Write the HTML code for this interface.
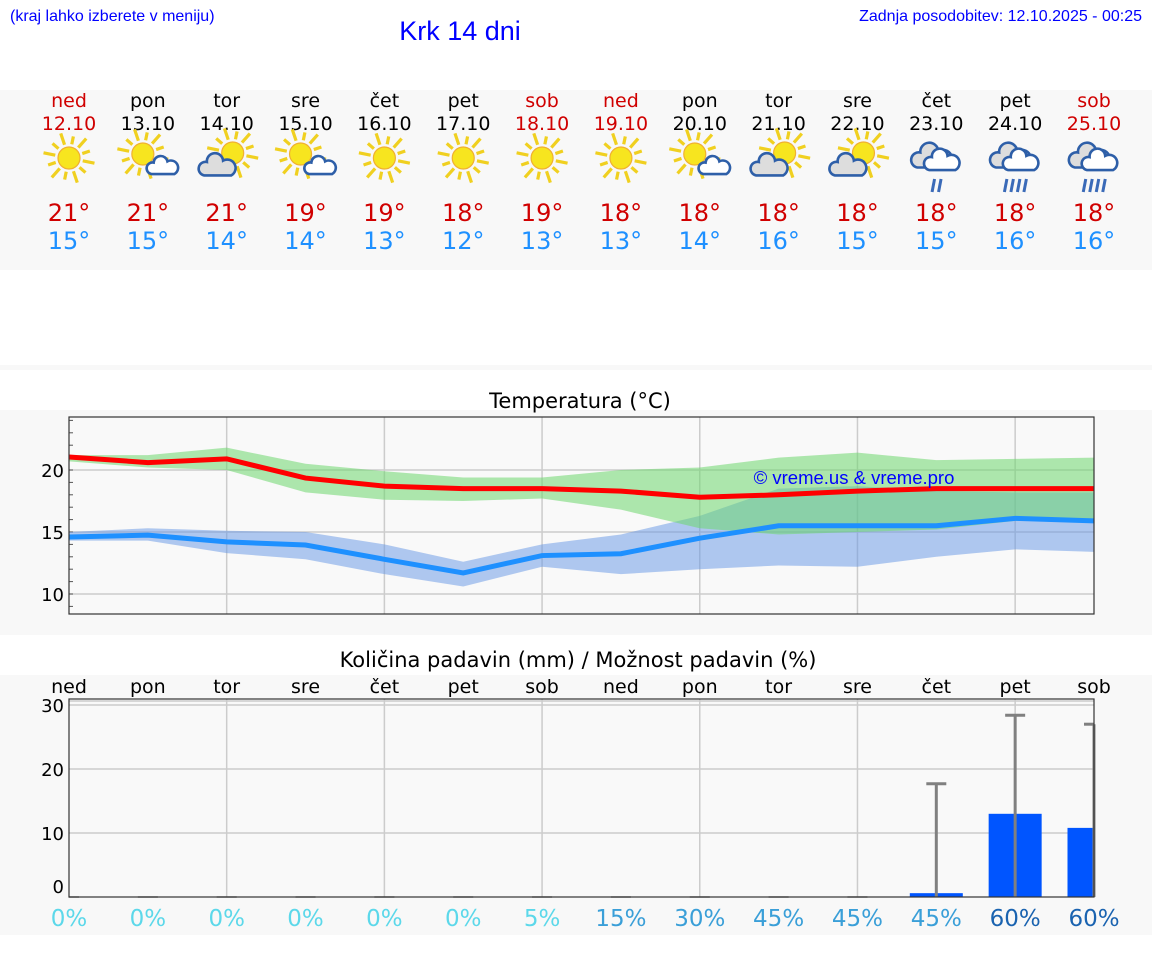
<!DOCTYPE html>
<html><head><meta charset="utf-8"><style>
body{margin:0;background:#fff;width:1152px;height:975px;overflow:hidden;font-family:"DejaVu Sans","Liberation Sans",sans-serif}
svg{display:block}
</style></head><body>
<svg id="s" width="1152" height="975" xmlns="http://www.w3.org/2000/svg">
<rect x="0" y="90" width="1152" height="180" fill="#f8f8f8"/>
<rect x="0" y="365" width="1152" height="5" fill="#f8f8f8"/>
<rect x="0" y="410" width="1152" height="225" fill="#f8f8f8"/>
<rect x="0" y="675" width="1152" height="260" fill="#f8f8f8"/>
<text x="10" y="21" font-family="Liberation Sans,sans-serif" font-size="16" fill="#0000ff">(kraj lahko izberete v meniju)</text>
<text x="460" y="40" text-anchor="middle" font-family="Liberation Sans,sans-serif" font-size="27" fill="#0000ff">Krk 14 dni</text>
<text x="1142" y="21" text-anchor="end" font-family="Liberation Sans,sans-serif" font-size="16" fill="#0000ff">Zadnja posodobitev: 12.10.2025 - 00:25</text>
<text x="580" y="408" text-anchor="middle" font-size="21" fill="#000">Temperatura (°C)</text>
<text x="578" y="667" text-anchor="middle" font-size="21" fill="#000">Količina padavin (mm) / Možnost padavin (%)</text>
<g id="g"></g>
</svg>
<script>
const days=["ned","pon","tor","sre","čet","pet","sob","ned","pon","tor","sre","čet","pet","sob"];
const dates=["12.10","13.10","14.10","15.10","16.10","17.10","18.10","19.10","20.10","21.10","22.10","23.10","24.10","25.10"];
const icons=["sun","sunc","csun","sunc","sun","sun","sun","sun","sunc","csun","csun","rain2","rain4","rain4"];
const maxT=[21,21,21,19,19,18,19,18,18,18,18,18,18,18];
const minT=[15,15,14,14,13,12,13,13,14,16,15,15,16,16];
const maxLine=[21.05,20.6,20.9,19.35,18.7,18.5,18.5,18.3,17.8,18.0,18.3,18.5,18.5,18.5];
const maxHi=[21.2,21.2,21.8,20.5,19.9,19.4,19.4,20.0,20.2,21.0,21.4,20.8,20.9,21.0];
const maxLo=[20.7,20.2,20.0,18.2,17.6,17.5,17.7,16.8,15.3,14.8,15.0,15.2,15.9,16.1];
const minLine=[14.6,14.75,14.2,13.95,12.8,11.7,13.1,13.25,14.5,15.5,15.5,15.5,16.1,15.9];
const minHi=[15.0,15.3,15.1,15.0,14.0,12.6,14.0,14.8,16.3,18.5,18.7,18.3,18.2,18.2];
const minLo=[14.3,14.3,13.3,12.8,11.6,10.6,12.2,11.6,12.0,12.3,12.2,13.0,13.6,13.4];
const tempTicks=[10,15,20];
const precip=[0,0,0,0,0,0,0,0,0,0,0,0.6,13,10.8];
const precipMax=[0,0,0,0,0,0,0,0,0,0,0,17.7,28.4,27];
const chance=[0,0,0,0,0,0,5,15,30,45,45,45,60,60];
const precipTicks=[0,10,20,30];
const NS="http://www.w3.org/2000/svg",g=document.getElementById('g');
function el(t,a,txt,p){const e=document.createElementNS(NS,t);for(const k in a)e.setAttribute(k,a[k]);if(txt!=null)e.textContent=txt;(p||g).appendChild(e);return e;}
const X0=69,X1=1094,dx=(X1-X0)/13;
const xd=i=>X0+i*dx;
const yT=v=>470-(v-20)*12.4;
const yP=v=>897-v*6.4;
const red="#d00000",blue="#1e90ff";
// daily panel
days.forEach((d,i)=>{
 const x=xd(i),we=(d==="ned"||d==="sob");
 let t=el('text',{x:x,y:107,'text-anchor':'middle','font-size':19,fill:we?red:"#000"},d);
 
 t=el('text',{x:x,y:130,'text-anchor':'middle','font-size':19,fill:we?red:"#000"},dates[i]);
 
 t=el('text',{x:x,y:221,'text-anchor':'middle','font-size':24,fill:red},maxT[i]+"°");
 
 t=el('text',{x:x,y:249,'text-anchor':'middle','font-size':24,fill:blue},minT[i]+"°");
 
 const ic=el('g',{transform:`translate(${x},158)`});
 
 const k=icons[i];
 const sun=(cx,cy,r)=>{for(let a=0;a<12;a++){const an=a*Math.PI/6+0.2;el('line',{x1:cx+Math.cos(an)*(r+3),y1:cy+Math.sin(an)*(r+3),x2:cx+Math.cos(an)*(r+(a%2?11:15)),y2:cy+Math.sin(an)*(r+(a%2?11:15)),stroke:"#f0d020","stroke-width":3.2},null,ic);}
  el('circle',{cx:cx,cy:cy,r:r,fill:"#f7e51f",stroke:"#f0b030","stroke-width":1.2},null,ic);};
 const cl=(cx,cy,r,fill)=>{el('path',{d:`M${cx-10*r},${cy+7*r} A5.5 5.5 0 0 1 ${cx-8*r},${cy-3*r} A7 7 0 0 1 ${cx+4*r},${cy-4*r} A5.5 5.5 0 0 1 ${cx+10*r},${cy+7*r} Z`,fill:fill,stroke:"#2e5fa8","stroke-width":2.6},null,ic);};
 if(k==="sun")sun(0,0,11);
 if(k==="sunc"){sun(-5,-4,11);cl(15,8,1.15,"#fff");}
 if(k==="csun"){sun(6,-5,11);cl(-9,8,1.35,"#ddd");}
 if(k.startsWith("rain")){cl(-4,-1,1.5,"#ddd");cl(6,3,1.3,"#fff");const n=k==="rain2"?2:4;for(let j=0;j<n;j++){const rx=(j-(n-1)/2)*6.5;el('line',{x1:rx+1.5,y1:21,x2:rx-1,y2:34,stroke:"#3a6ab8","stroke-width":3},null,ic);}}
});
// temperature chart
el('rect',{x:X0,y:417,width:X1-X0,height:197,fill:"#f9f9f9"});
for(let i=2;i<13;i+=2){const l=el('line',{x1:xd(i),y1:417,x2:xd(i),y2:614,stroke:"#ccc","stroke-width":1.5});}
tempTicks.forEach(v=>{const l=el('line',{x1:X0,y1:yT(v),x2:X1,y2:yT(v),stroke:"#ccc","stroke-width":1.5});
 const t=el('text',{x:64,y:yT(v)+7,'text-anchor':'end','font-size':18,fill:"#000"},String(v));});
for(let v=9;v<=24;v++){const l=el('line',{x1:X0,y1:yT(v),x2:X0+4,y2:yT(v),stroke:"#555","stroke-width":1});}
const band=(hi,lo,fill,name)=>{let d="M"+hi.map((v,i)=>xd(i)+","+yT(v)).join(" L")+" L"+lo.map((v,i)=>xd(i)+","+yT(v)).reverse().join(" L")+"Z";const p=el('path',{d:d,fill:fill});};
band(minHi,minLo,"rgba(100,150,230,0.5)","min-temp-range");
band(maxHi,maxLo,"rgba(110,215,110,0.55)","max-temp-range");
const line=(arr,c,name)=>{const p=el('polyline',{points:arr.map((v,i)=>xd(i)+","+yT(v)).join(" "),fill:"none",stroke:c,"stroke-width":5});};
line(minLine,blue,"min-temp-line");
line(maxLine,"#ff0000","max-temp-line");
let tt=el('text',{x:854,y:484,'text-anchor':'middle','font-size':18.5,fill:"#0000ff","font-family":"Liberation Sans,sans-serif"},"© vreme.us & vreme.pro");

let fr=el('rect',{x:X0,y:417,width:X1-X0,height:197,fill:"none",stroke:"#333","stroke-width":1.2});
// precipitation chart
el('rect',{x:X0,y:699,width:X1-X0,height:198,fill:"#f9f9f9"});
for(let i=2;i<13;i+=2){const l=el('line',{x1:xd(i),y1:699,x2:xd(i),y2:897,stroke:"#ccc","stroke-width":1.5});}
precipTicks.forEach(v=>{if(v>0){const l=el('line',{x1:X0,y1:yP(v),x2:X1,y2:yP(v),stroke:"#ccc","stroke-width":1.5});}
 const t=el('text',{x:64,y:yP(v)+(v===0?-4:7),'text-anchor':'end','font-size':18,fill:"#000"},String(v));});
el('line',{x1:X0,y1:701,x2:X1,y2:701,stroke:"#ccc","stroke-width":1.5});
const bw=53;
precip.forEach((v,i)=>{const x=xd(i);const x0=Math.max(X0,x-bw/2),x1=Math.min(X1,x+bw/2);
 if(v>0){const r=el('rect',{x:x0,y:yP(v),width:x1-x0,height:yP(0)-yP(v),fill:"#0055ff"});}
 const m=precipMax[i];
 if(m>0){const l=el('line',{x1:x,y1:yP(0),x2:x,y2:yP(m),stroke:"#808080","stroke-width":3});}
 const c=el('line',{x1:Math.max(X0,x-10),y1:yP(m),x2:Math.min(X1,x+10),y2:yP(m),stroke:"#808080","stroke-width":m>0?3:1.5});
 const t=el('text',{x:x,y:693,'text-anchor':'middle','font-size':19,fill:"#000"},days[i]);
 const col=chance[i]<10?"#5cd8ea":chance[i]<60?"#3a9fd8":"#1a63b0";
 const p=el('text',{x:x,y:926,'text-anchor':'middle','font-size':23,fill:col},chance[i]+"%");
});
fr=el('rect',{x:X0,y:699,width:X1-X0,height:198,fill:"none",stroke:"#333","stroke-width":1.2});
</script>
</body></html>
